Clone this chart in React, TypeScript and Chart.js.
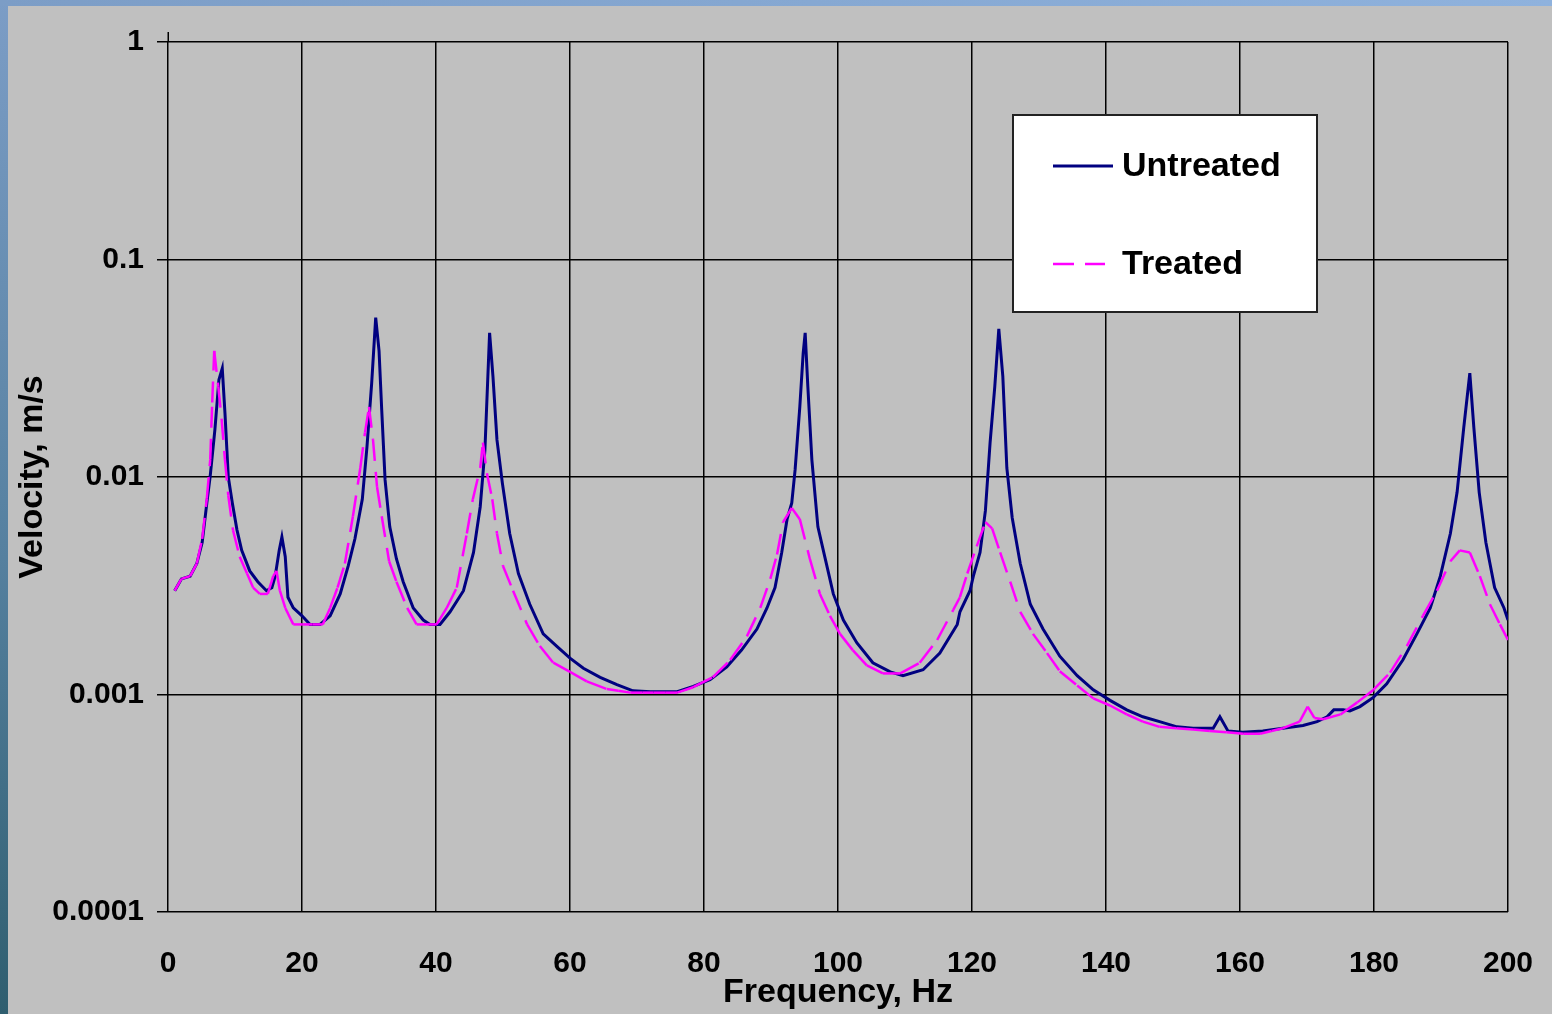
import React, { useEffect, useRef } from 'react';
import { Chart, registerables } from 'chart.js';

Chart.register(...registerables);

// ---- Data ----
const untreatedHz = [
  1, 2, 3.3, 4.3, 5.1, 5.8, 6.3, 7, 7.6, 8.1, 8.5, 9, 9.6, 10.3, 11, 12.2, 13.4, 14.7, 15.5, 16,
  16.6, 17, 17.5, 17.9, 18.7, 20, 21.2, 22.7, 24.2, 25.7, 26.9, 27.9, 29, 29.7, 30.4, 31, 31.5, 31.9, 32.4, 33.1,
  34.1, 35.1, 36.6, 38.1, 39.1, 40.6, 42.1, 44.1, 45.6, 46.6, 47.3, 48, 48.5, 49.1, 49.9, 51, 52.3, 54, 56, 58,
  60, 62, 64.5, 67, 69.4, 72, 76, 78.4, 80.9, 83.4, 85.6, 87.9, 89.4, 90.6, 91.6, 92.4, 93.1, 93.6, 94.3, 94.8,
  95.1, 95.5, 96.1, 97, 98.1, 99.3, 100.8, 102.8, 105.2, 107.8, 109.7, 112.7, 115.2, 117.8, 118.2, 119.7, 120.2, 121.2, 122, 122.7,
  123.4, 124, 124.6, 125.2, 126, 127.2, 128.7, 130.6, 133.1, 135.7, 138.1, 140.6, 143.1, 145.5, 148, 150.6, 153, 156, 157, 158.2,
  160.4, 163.4, 166.4, 169.4, 171.5, 173, 174, 175.4, 176.4, 177.9, 179.9, 181.9, 184.3, 186.4, 188.4, 189.9, 191.4, 192.4, 193.4, 194.3,
  194.9, 195.7, 196.7, 198, 199.4, 200,
];
const untreatedVel = [
  0.003, 0.0034, 0.0035, 0.004, 0.005, 0.0076, 0.0101, 0.0165, 0.028, 0.0316, 0.0197, 0.01, 0.0076, 0.0057, 0.0046, 0.0037, 0.0033, 0.003, 0.0031, 0.0035,
  0.0046, 0.0053, 0.0043, 0.0028, 0.0025, 0.0023, 0.0021, 0.0021, 0.0023, 0.0029, 0.0039, 0.0052, 0.0079, 0.0138, 0.027, 0.054, 0.038, 0.0203, 0.0097, 0.0059,
  0.0042, 0.0033, 0.0025, 0.0022, 0.0021, 0.0021, 0.0024, 0.003, 0.0045, 0.0073, 0.0133, 0.046, 0.029, 0.0148, 0.0094, 0.0055, 0.0036, 0.0026, 0.0019, 0.00167,
  0.00147, 0.00132, 0.0012, 0.00111, 0.00104, 0.00103, 0.00103, 0.00109, 0.00117, 0.00134, 0.0016, 0.002, 0.0025, 0.0031, 0.0045, 0.0064, 0.0076, 0.0108, 0.021, 0.037,
  0.046, 0.026, 0.012, 0.0059, 0.0042, 0.0029, 0.0022, 0.00173, 0.0014, 0.00127, 0.00122, 0.0013, 0.00155, 0.0021, 0.0024, 0.003, 0.0035, 0.0045, 0.007, 0.0144,
  0.026, 0.048, 0.029, 0.011, 0.0065, 0.004, 0.0026, 0.002, 0.0015, 0.00122, 0.00105, 0.00094, 0.00085, 0.00079, 0.00075, 0.00071, 0.0007, 0.0007, 0.00079, 0.00068,
  0.00067, 0.00068, 0.0007, 0.00072, 0.00075, 0.00079, 0.00085, 0.00085, 0.00084, 0.00088, 0.00097, 0.00112, 0.00144, 0.0019, 0.0025, 0.0035, 0.0055, 0.0085, 0.0169, 0.03,
  0.0169, 0.0085, 0.005, 0.0031, 0.0025, 0.0022,
];

const treatedHz = [
  1, 2, 3.3, 4.3, 5.1, 5.8, 6.3, 6.6, 6.9, 7.5, 8, 8.5, 9, 9.7, 10.7, 11.8, 12.7, 13.7, 14.9, 15.7,
  16.2, 16.7, 17.5, 18.7, 20.1, 21.6, 23.1, 24.2, 25.3, 26.4, 27.6, 28.7, 29.4, 30, 30.6, 31.2, 31.9, 33, 34.1, 35.7,
  37.1, 38.6, 40.1, 41.6, 43.1, 44.6, 45.5, 46.6, 47, 47.6, 48.4, 49.1, 50, 51.5, 53.6, 55.5, 57.5, 60, 62.5, 65.5,
  67.2, 69, 70.8, 72.5, 74.2, 76, 78.4, 81.3, 83.9, 86.4, 88.4, 89.9, 90.9, 91.8, 93.1, 94.3, 95.8, 97.3, 98.8, 100.3,
  102.2, 104.3, 106.7, 109.3, 112.2, 114.8, 117.2, 118.2, 119.3, 120.7, 122, 123, 124.2, 125.7, 127.2, 129.1, 131.2, 133.1, 135.7, 138.1,
  140.6, 143.1, 145.5, 148, 150.5, 153, 155.5, 158, 160.5, 163, 164.7, 166.4, 168.9, 170.1, 171.1, 172.4, 175, 177.5, 179.9, 182.4,
  184.9, 187.3, 189.4, 191.4, 192.8, 194.3, 195.8, 197.3, 198.8, 200,
];
const treatedVel = [
  0.003, 0.0034, 0.0035, 0.004, 0.0052, 0.008, 0.012, 0.022, 0.038, 0.026, 0.0185, 0.012, 0.0082, 0.0057, 0.0043, 0.0036, 0.0031, 0.0029, 0.0029, 0.0035,
  0.0037, 0.003, 0.0025, 0.0021, 0.0021, 0.0021, 0.0021, 0.0025, 0.0031, 0.004, 0.0066, 0.011, 0.016, 0.021, 0.0148, 0.009, 0.0066, 0.0041, 0.0033, 0.0025,
  0.0021, 0.0021, 0.0021, 0.0025, 0.0031, 0.0055, 0.0079, 0.011, 0.0144, 0.0104, 0.0079, 0.0055, 0.0039, 0.003, 0.0021, 0.00167, 0.0014, 0.00127, 0.00115, 0.00106,
  0.00104, 0.00102, 0.00102, 0.00102, 0.00102, 0.00102, 0.00108, 0.0012, 0.00144, 0.00185, 0.0025, 0.0034, 0.0044, 0.0062, 0.0072, 0.0064, 0.0042, 0.0029, 0.0023, 0.0019,
  0.0016, 0.00136, 0.00125, 0.00125, 0.0014, 0.00178, 0.00245, 0.0028, 0.0036, 0.0048, 0.0062, 0.0058, 0.0045, 0.0033, 0.0024, 0.0019, 0.00155, 0.00128, 0.0011, 0.00096,
  0.00089, 0.00081, 0.00075, 0.00071, 0.0007, 0.00069, 0.00068, 0.00067, 0.00066, 0.00066, 0.00068, 0.0007, 0.00075, 0.00088, 0.00078, 0.00077, 0.00081, 0.00092, 0.00105, 0.00126,
  0.00167, 0.0023, 0.003, 0.0041, 0.0046, 0.0045, 0.0035, 0.0026, 0.0021, 0.00178,
];

const seriesNames = ['Untreated', 'Treated'];
const xTicks = [0, 20, 40, 60, 80, 100, 120, 140, 160, 180, 200];
const yTickValues = [0.0001, 0.001, 0.01, 0.1, 1];
const yTickLabels = ['0.0001', '0.001', '0.01', '0.1', '1'];

const FONT = '"Liberation Sans", Arial, Helvetica, sans-serif';

const boxLegend = {
  id: 'boxLegend',
  afterDraw(chart: any) {
    const { ctx, chartArea } = chart;
    ctx.save();
    // small extension of the value axis above the top gridline
    ctx.strokeStyle = '#000';
    ctx.lineWidth = 1.5;
    ctx.beginPath();
    ctx.moveTo(chartArea.left + 0.25, chartArea.top - 10);
    ctx.lineTo(chartArea.left + 0.25, chartArea.top);
    ctx.stroke();

    const bx = chartArea.left + 845;
    const by = chartArea.top + 73;
    const bw = 304;
    const bh = 197;
    ctx.fillStyle = '#ffffff';
    ctx.fillRect(bx, by, bw, bh);
    ctx.strokeStyle = '#222';
    ctx.lineWidth = 2;
    ctx.strokeRect(bx, by, bw, bh);

    chart.data.datasets.forEach((ds: any, i: number) => {
      const y = by + 51 + i * 98;
      ctx.strokeStyle = ds.borderColor;
      ctx.lineWidth = ds.borderWidth;
      ctx.setLineDash(ds.borderDash || []);
      ctx.beginPath();
      ctx.moveTo(bx + 40, y);
      ctx.lineTo(bx + (ds.borderDash ? 92 : 100), y);
      ctx.stroke();
      ctx.setLineDash([]);
      ctx.fillStyle = '#000';
      ctx.font = `bold 34px ${FONT}`;
      ctx.textBaseline = 'middle';
      ctx.textAlign = 'left';
      ctx.fillText(ds.label, bx + 109, y + 1);
    });
    ctx.restore();
  },
};

export default function App() {
  const canvasRef = useRef<HTMLCanvasElement | null>(null);

  useEffect(() => {
    if (!canvasRef.current) return;
    Chart.defaults.font.family = FONT;
    const chart = new Chart(canvasRef.current, {
      type: 'line',
      data: {
        datasets: [
          {
            label: seriesNames[0],
            data: untreatedHz.map((x, i) => ({ x, y: untreatedVel[i] })),
            borderColor: '#000080',
            borderWidth: 3,
            pointRadius: 0,
            tension: 0,
            fill: false,
            order: 1,
          },
          {
            label: seriesNames[1],
            data: treatedHz.map((x, i) => ({ x, y: treatedVel[i] })),
            borderColor: '#FF00FF',
            borderWidth: 2.5,
            borderDash: [21, 11],
            pointRadius: 0,
            tension: 0,
            fill: false,
            order: 0,
            segment: {
              borderDashOffset: (ctx: any) => (ctx.p0DataIndex % 2 ? 0.001 : 0),
            },
          } as any,
        ],
      },
      options: {
        responsive: false,
        animation: false,
        devicePixelRatio: 1,
        layout: { padding: { left: 0, top: 42, right: 44, bottom: 0 } },
        plugins: {
          legend: { display: false },
          tooltip: { enabled: false },
        },
        scales: {
          x: {
            type: 'linear',
            min: 0,
            max: 200,
            afterBuildTicks: (s: any) => {
              s.ticks = xTicks.map((v) => ({ value: v }));
            },
            afterFit: (s: any) => {
              s.height = 102;
              s.paddingLeft = 0;
              s.paddingRight = 0;
            },
            ticks: {
              autoSkip: false,
              maxRotation: 0,
              padding: 34,
              color: '#000',
              font: { family: FONT, size: 30, weight: 'bold' },
              callback: (_v: any, i: number) => String(xTicks[i]),
            },
            grid: { color: '#000', lineWidth: 1.5, drawTicks: false },
            border: { display: false },
            title: {
              display: true,
              text: 'Frequency, Hz',
              color: '#000',
              font: { family: FONT, size: 34, weight: 'bold' },
              padding: { top: 0, bottom: 1 },
            },
          },
          y: {
            type: 'logarithmic',
            min: 0.0001,
            max: 1,
            afterBuildTicks: (s: any) => {
              s.ticks = yTickValues.map((v) => ({ value: v }));
            },
            afterFit: (s: any) => {
              s.width = 168;
              s.paddingTop = 0;
              s.paddingBottom = 0;
            },
            ticks: {
              autoSkip: false,
              padding: 13,
              color: '#000',
              font: { family: FONT, size: 30, weight: 'bold' },
              callback: (_v: any, i: number) => yTickLabels[i],
            },
            grid: { color: '#000', lineWidth: 1.5, drawTicks: true, tickLength: 11 },
            border: { display: false },
            title: {
              display: true,
              text: 'Velocity, m/s',
              color: '#000',
              font: { family: FONT, size: 34, weight: 'bold' },
              padding: { top: 12, bottom: 0 },
            },
          },
        },
      } as any,
      plugins: [boxLegend],
    });
    return () => chart.destroy();
  }, []);

  return (
    <div
      style={{
        position: 'fixed',
        left: 0,
        top: 0,
        width: 1552,
        height: 1014,
        overflow: 'hidden',
        background: 'linear-gradient(to bottom, #7c9dc6 0%, #55809f 55%, #2f5e6f 100%)',
      }}
    >
      <div
        style={{
          position: 'absolute',
          left: 0,
          top: 0,
          width: 1552,
          height: 6,
          background: 'linear-gradient(to right, #7c9dc6, #8fb2dd)',
        }}
      />
      <div
        style={{
          position: 'absolute',
          left: 8,
          top: 6,
          right: 0,
          bottom: 0,
          background: '#C0C0C0',
        }}
      />
      <canvas
        ref={canvasRef}
        width={1552}
        height={1014}
        style={{ position: 'absolute', left: 0, top: 0, width: 1552, height: 1014 }}
      />
    </div>
  );
}
